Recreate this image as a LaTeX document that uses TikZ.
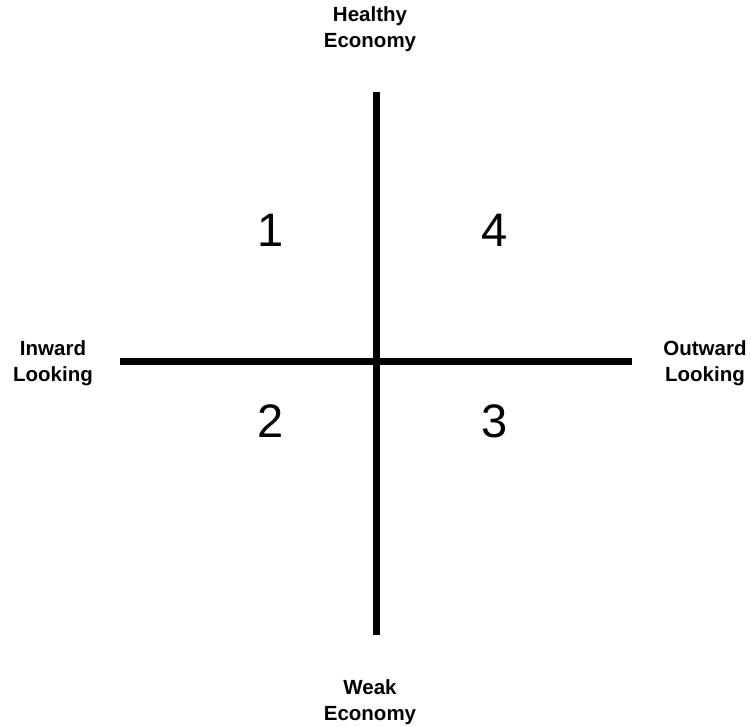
\documentclass[tikz,border=0pt]{standalone}
\usepackage{fontspec}
\setmainfont{Liberation Sans}
\begin{document}
\begin{tikzpicture}[x=1pt,y=1pt,
  axis/.style={line width=7pt,black},
  lbl/.style={font=\fontsize{20.5}{26}\selectfont\bfseries,align=center,inner sep=0pt,outer sep=0pt},
  num/.style={font=\fontsize{47}{50}\selectfont,inner sep=0pt,outer sep=0pt}]
\useasboundingbox (0,0) rectangle (751,-726);
\coordinate (top) at (376,-92);
\coordinate (bot) at (376,-635);
\coordinate (lft) at (120,-361);
\coordinate (rgt) at (632,-361);
\draw[axis] (top) -- (bot);
\draw[axis] (lft) -- (rgt);
\node[lbl] (healthy) at (370,-29) {Healthy\\Economy};
\node[lbl] (weak) at (370,-702) {Weak\\Economy};
\node[lbl] (inward) at (53,-363) {Inward\\Looking};
\node[lbl] (outward) at (705,-363) {Outward\\Looking};
\node[num] (q1) at (271,-230) {1};
\node[num] (q4) at (495,-230) {4};
\node[num] (q2) at (271,-421) {2};
\node[num] (q3) at (495,-421) {3};
\end{tikzpicture}
\end{document}
